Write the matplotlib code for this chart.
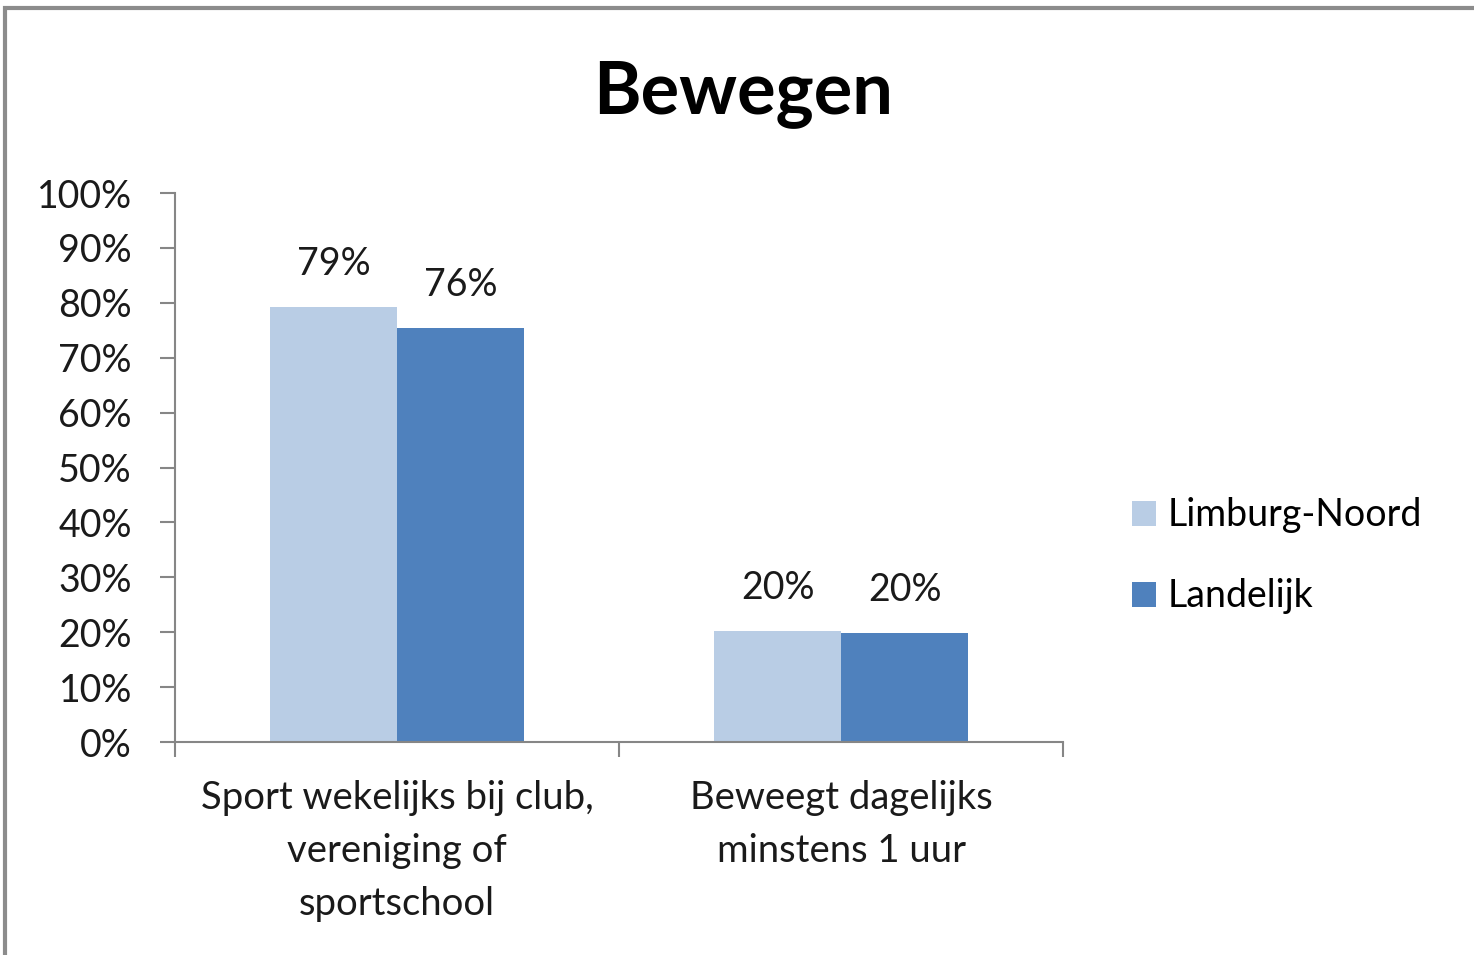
import matplotlib.pyplot as plt
from matplotlib.patches import Rectangle
from matplotlib.ticker import PercentFormatter
import numpy as np

# waarden
categorieen = ['Sport wekelijks bij club,\nvereniging of\nsportschool',
               'Beweegt dagelijks\nminstens 1 uur']
limburg_noord = [0.792, 0.202]
landelijk = [0.755, 0.199]
labels_limburg = ['79%', '20%']
labels_landelijk = ['76%', '20%']

plt.rcParams['font.family'] = ['Lato', 'DejaVu Sans']

fig = plt.figure(figsize=(14.74, 9.55), dpi=100)
ax = fig.add_axes([0.1187, 0.2230, 0.7212 - 0.1187, 0.7979 - 0.2230])

x = np.arange(len(categorieen))
w = 0.286
b1 = ax.bar(x - w / 2, limburg_noord, w, color='#b9cde5', label='Limburg-Noord')
b2 = ax.bar(x + w / 2, landelijk, w, color='#4f81bd', label='Landelijk')

for bars, labs in ((b1, labels_limburg), (b2, labels_landelijk)):
    for bar, lab in zip(bars, labs):
        ax.annotate(lab, (bar.get_x() + bar.get_width() / 2, bar.get_height()),
                    xytext=(0, 18), textcoords='offset points',
                    ha='center', va='bottom', fontsize=27, color='#1a1a1a')

ax.set_xlim(-0.5, 1.5)
ax.set_ylim(0, 1)
ax.set_yticks(np.arange(0, 1.01, 0.1))
ax.yaxis.set_major_formatter(PercentFormatter(1.0, decimals=0))

ax.set_xticks(x)
ax.set_xticklabels(categorieen, fontsize=27.5, linespacing=1.6)
ax.set_xticks([-0.5, 0.5, 1.5], minor=True)
ax.tick_params(axis='x', which='major', length=0, pad=27, colors='#1a1a1a')
ax.tick_params(axis='x', which='minor', length=11, width=1.5, color='#868686')
ax.tick_params(axis='y', length=11, width=1.5, color='#868686', pad=20,
               labelsize=27, labelcolor='#1a1a1a')

for s in ('top', 'right'):
    ax.spines[s].set_visible(False)
for s in ('left', 'bottom'):
    ax.spines[s].set_color('#868686')
    ax.spines[s].set_linewidth(1.5)

fig.text(0.504, 0.902, 'Bewegen', ha='center', va='center',
         fontsize=52, fontweight='bold')

fig.legend(handles=[b1, b2], loc='center left', bbox_to_anchor=(0.745, 0.418),
           frameon=False, fontsize=27, handlelength=0.65, handleheight=0.65,
           handletextpad=0.3, labelspacing=1.2)

# grijze kader rond de grafiek
fig.patches.append(Rectangle((0.0037, -0.05), 1.1, 1.042, transform=fig.transFigure,
                             fill=False, edgecolor='#8c8c8c', linewidth=3))

fig.savefig('out.png', dpi=100)
